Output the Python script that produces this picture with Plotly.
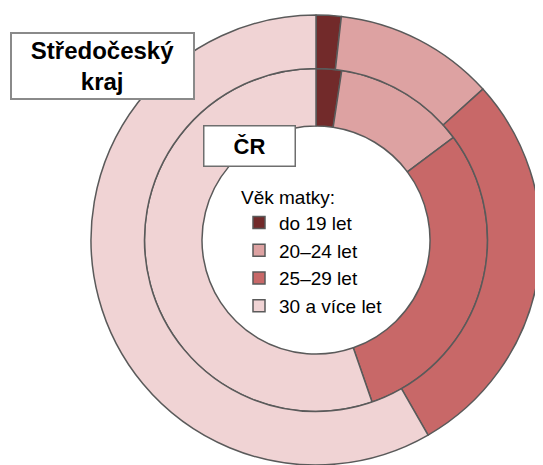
import plotly.graph_objects as go

labels = ["do 19 let", "20–24 let", "25–29 let", "30 a více let"]
kraj_values = [1.8, 11.5, 28.4, 58.3]   # outer ring: Středočeský kraj
cr_values = [2.4, 12.4, 29.9, 55.3]     # inner ring: ČR
colors = ["#722A2A", "#DDA2A2", "#C86868", "#F0D3D4"]

OFF = 8                    # page body margin
W, H = 543 - OFF, 465 - OFF
cx, cy = 316 - OFF, 240 - OFF   # centre in figure px from top-left
r_out, r_mid, r_in = 225, 171.5, 114

def dom(r):
    yb = H - cy
    return dict(x=[max(0, (cx - r) / W), min(1, (cx + r) / W)],
                y=[max(0, (yb - r) / H), min(1, (yb + r) / H)])

def px(x, y):
    return (x - OFF) / W, 1 - (y - OFF) / H

line = dict(color="#5A5A5A", width=1.5)

fig = go.Figure()
fig.add_trace(go.Pie(
    labels=labels, values=cr_values, sort=False, direction="clockwise", rotation=0,
    hole=r_in / r_mid, domain=dom(r_mid), textinfo="none",
    marker=dict(colors=colors, line=line), showlegend=True, name="ČR"))
fig.add_trace(go.Pie(
    labels=labels, values=kraj_values, sort=False, direction="clockwise", rotation=0,
    hole=r_mid / r_out, domain=dom(r_out), textinfo="none",
    marker=dict(colors=colors, line=line), showlegend=False, name="Středočeský kraj"))

ax, ay = px(102.5, 66)
fig.add_annotation(
    x=ax, y=ay, xref="paper", yref="paper", xanchor="center", yanchor="middle",
    text="<b>Středočeský<br>kraj</b>", showarrow=False,
    font=dict(family="Liberation Sans", size=24, color="#000000"),
    width=181, height=64, borderpad=0, borderwidth=2, bordercolor="#8A8A8A",
    bgcolor="#FFFFFF", align="center", valign="middle")
bx, by = px(249.5, 146)
fig.add_annotation(
    x=bx, y=by, xref="paper", yref="paper", xanchor="center", yanchor="middle",
    text="<b>ČR</b>", showarrow=False,
    font=dict(family="Liberation Sans", size=22, color="#000000"),
    width=90, height=39, borderpad=0, borderwidth=1.5, bordercolor="#6E6E6E",
    bgcolor="#FFFFFF", align="center", valign="middle")

lx, ly = px(239, 179)
fig.update_layout(
    width=W, height=H, margin=dict(l=0, r=0, t=0, b=0),
    paper_bgcolor="#FFFFFF", plot_bgcolor="#FFFFFF",
    font=dict(family="Liberation Sans", color="#000000"),
    legend=dict(
        title=dict(text="Věk matky:", font=dict(size=19, family="Liberation Sans")),
        font=dict(size=19, family="Liberation Sans"),
        x=lx, y=ly, xanchor="left", yanchor="top",
        bgcolor="rgba(0,0,0,0)", traceorder="normal"),
)

fig.write_html("out.html")
